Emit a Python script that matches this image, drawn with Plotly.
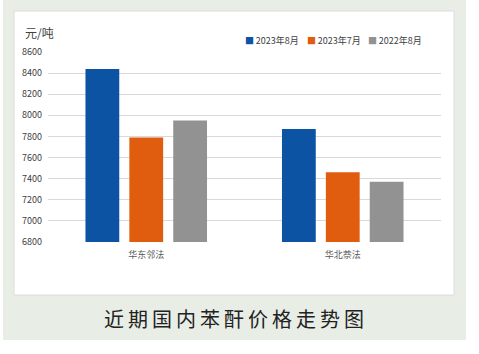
import plotly.graph_objects as go

categories = ["华东邻法", "华北萘法"]
series_names = ["2023年8月", "2023年7月", "2022年8月"]
aug_2023 = [8440, 7870]
jul_2023 = [7790, 7460]
aug_2022 = [7950, 7370]
colors = ["#0d53a3", "#e05c0e", "#929292"]
y_ticks = [6800, 7000, 7200, 7400, 7600, 7800, 8000, 8200, 8400, 8600]

W, H = 479, 354
L, R, T, B = 48, 38, 52, 112
pw, ph = W - L - R, H - T - B

def px(x):
    return (x - L) / pw

def py(y):
    return (H - B - y) / ph

FONT = "Noto Sans CJK SC"

fig = go.Figure()
for name, vals, c in zip(series_names, [aug_2023, jul_2023, aug_2022], colors):
    fig.add_trace(go.Bar(x=categories, y=vals, name=name, marker=dict(color=c, line=dict(width=0))))

legend_x = [243, 305, 366]
legend_ann = [
    dict(text=f"<span style='color:{c}'>■</span>\u2009{n}", xref="paper", yref="paper", x=px(lx), y=py(40),
         xanchor="left", yanchor="middle", showarrow=False,
         font=dict(size=9, color="#404040", family=FONT))
    for n, c, lx in zip(series_names, colors, legend_x)
]

fig.update_layout(
    width=W, height=H,
    margin=dict(l=L, r=R, t=T, b=B, autoexpand=False),
    paper_bgcolor="white",
    plot_bgcolor="rgba(0,0,0,0)",
    barmode="group",
    bargap=0.33,
    bargroupgap=0.23,
    font=dict(family=FONT, color="#404040"),
    showlegend=False,
    xaxis=dict(showgrid=False, showline=False, ticks="", tickfont=dict(size=9, color="#595959"),
               ticklabelstandoff=6),
    yaxis=dict(range=[6800, 8600], tickvals=y_ticks, showgrid=True, gridcolor="#d9d9d9",
               gridwidth=1, zeroline=False, showline=False, ticks="",
               tickfont=dict(size=9, color="#404040"), ticklabelstandoff=5),
    shapes=[
        dict(type="rect", xref="paper", yref="paper", x0=px(3), x1=px(466), y0=py(340), y1=py(0),
             fillcolor="#e8ede6", line=dict(width=0), layer="below"),
        dict(type="rect", xref="paper", yref="paper", x0=px(14), x1=px(454), y0=py(295), y1=py(11),
             fillcolor="white", line=dict(width=1, color="#dcdcdc"), layer="below"),
    ],
    annotations=[
        dict(text="元/吨", xref="paper", yref="paper", x=px(23), y=py(33), xanchor="left", yanchor="middle",
             showarrow=False, font=dict(size=12, color="#404040", family=FONT)),
        dict(text="近\u2009期\u2009国\u2009内\u2009苯\u2009酐\u2009价\u2009格\u2009走\u2009势\u2009图", xref="paper", yref="paper",
             x=px(234), y=py(318), xanchor="center", yanchor="middle",
             showarrow=False, font=dict(size=20, color="#222222", family=FONT)),
    ] + legend_ann,
)

fig.write_html("out.html")
